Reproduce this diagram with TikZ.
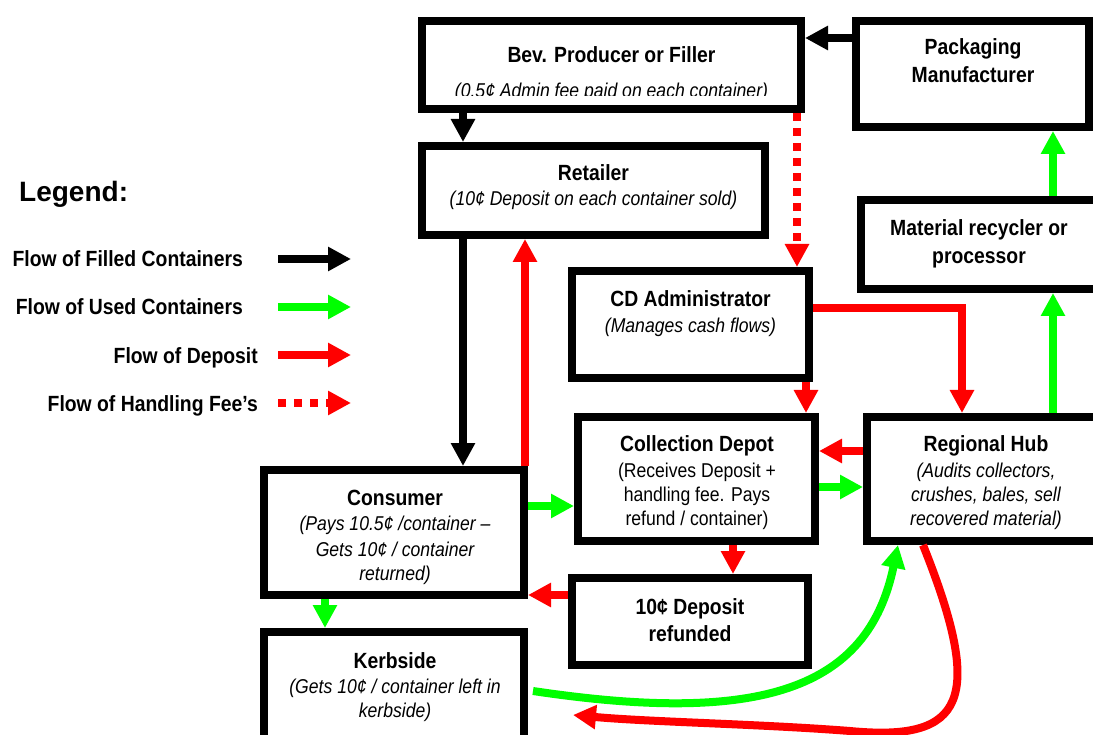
\documentclass[tikz,border=0pt]{standalone}
\usepackage{fontspec}
\setmainfont{Liberation Sans}[FakeStretch=0.88]
\newfontfamily\legendfont{Liberation Sans}
\usetikzlibrary{arrows.meta}
\definecolor{fgreen}{RGB}{0,255,0}
\definecolor{fred}{RGB}{255,0,0}
\begin{document}
\begin{tikzpicture}[x=1pt,y=-1pt,
 box/.style={draw=black, line width=8pt, fill=white, inner sep=0pt, outer sep=4pt},
 ttl/.style={font=\fontsize{22}{26}\selectfont\bfseries, anchor=base, inner sep=0pt},
 itl/.style={font=\fontsize{20}{24}\selectfont\itshape, anchor=base, inner sep=0pt},
 rgl/.style={font=\fontsize{20}{24}\selectfont, anchor=base, inner sep=0pt},
 legt/.style={font=\fontsize{22}{26}\selectfont\bfseries, anchor=base east, inner sep=0pt},
 flow/.style={line width=8pt, -{Triangle[length=23pt,width=23pt]}},
 blk/.style={flow, draw=black},
 grn/.style={flow, draw=fgreen},
 rd/.style={flow, draw=fred},
 fee/.style={flow, draw=fred, dash pattern=on 8pt off 7pt},
]
\clip (0,0) rectangle (1093,735);
\fill[white] (0,0) rectangle (1093,735);

% boxes
\node[box, minimum width=379pt, minimum height=88pt] (bev) at (611.5,65) {};
\node[box, minimum width=233pt, minimum height=106pt] (pack) at (972.5,74) {};
\node[box, minimum width=343pt, minimum height=89pt] (ret) at (593.5,190.5) {};
\node[box, minimum width=237pt, minimum height=107pt] (cda) at (690.5,324.5) {};
\node[box, minimum width=240pt, minimum height=89pt] (mat) at (981,244.5) {};
\node[box, minimum width=237pt, minimum height=124pt] (depot) at (696.5,479) {};
\node[box, minimum width=234pt, minimum height=124pt] (hub) at (984,479) {};
\node[box, minimum width=260pt, minimum height=125pt] (cons) at (394,532.5) {};
\node[box, minimum width=236pt, minimum height=87pt] (ref) at (690,621.5) {};
\node[box, minimum width=260pt, minimum height=124pt] (kerb) at (394,694) {};

% texts
\node[ttl] (bev1) at (611.5,63) {Bev. Producer or Filler};
\begin{scope}
\clip (430,70) rectangle (795,96);
\node[itl] (bev2) at (611.5,97.5) {(0.5¢ Admin fee paid on each container)};
\end{scope}

\node[ttl] (pack1) at (973,55) {Packaging};
\node[ttl] (pack2) at (973,83) {Manufacturer};

\node[ttl] (ret1) at (593.5,181) {Retailer};
\node[itl] (ret2) at (593.5,206) {(10¢ Deposit on each container sold)};

\node[ttl] (mat1) at (979,236) {Material recycler or};
\node[ttl] (mat2) at (979,264) {processor};

\node[ttl] (cda1) at (690.5,307) {CD Administrator};
\node[itl] (cda2) at (690.5,333) {(Manages cash flows)};

\node[ttl] (dep1) at (697,451) {Collection Depot};
\node[rgl] (dep2) at (697,477) {(Receives Deposit +};
\node[rgl] (dep3) at (697,501) {handling fee. Pays};
\node[rgl] (dep4) at (697,525) {refund / container)};

\node[ttl] (hub1) at (986,451) {Regional Hub};
\node[itl] (hub2) at (986,477) {(Audits collectors,};
\node[itl] (hub3) at (986,501) {crushes, bales, sell};
\node[itl] (hub4) at (986,525) {recovered material)};

\node[ttl] (con1) at (395,505) {Consumer};
\node[itl] (con2) at (395,530) {(Pays 10.5¢ /container –};
\node[itl] (con3) at (395,556) {Gets 10¢ / container};
\node[itl] (con4) at (395,580) {returned)};

\node[ttl] (ref1) at (690,614) {10¢ Deposit};
\node[ttl] (ref2) at (690,641) {refunded};

\node[ttl] (ker1) at (395,668) {Kerbside};
\node[itl] (ker2) at (395,693) {(Gets 10¢ / container left in};
\node[itl] (ker3) at (395,717) {kerbside)};

% connectors
\draw[blk] (pack.west |- 0,38) -- (bev.east |- 0,38);
\draw[blk] (bev.south -| 463,0) -- (ret.north -| 463,0);
\draw[fee] (bev.south -| 797,0) -- (cda.north -| 797,0);
\draw[blk] (ret.south -| 463,0) -- (cons.north -| 463,0);
\draw[rd] (cons.north -| 525,0) -- (ret.south -| 525,0);
\draw[rd] (cda.east |- 0,308) -| (hub.north -| 962,0);
\draw[fee] (cda.south -| 806,0) -- (depot.north -| 806,0);
\draw[grn] (mat.north -| 1053,0) -- (pack.south -| 1053,0);
\draw[grn] (hub.north -| 1053,0) -- (mat.south -| 1053,0);
\draw[rd] (hub.west |- 0,451) -- (depot.east |- 0,451);
\draw[grn] (depot.east |- 0,487) -- (hub.west |- 0,487);
\draw[grn] (cons.east |- 0,506) -- (depot.west |- 0,506);
\draw[rd] (depot.south -| 733,0) -- (ref.north -| 733,0);
\draw[rd] (ref.west |- 0,595) -- (cons.east |- 0,595);
\draw[grn] (cons.south -| 325,0) -- (kerb.north -| 325,0);
\draw[grn] ([xshift=5pt]kerb.east |- 0,691) .. controls (760,725) and (868,690) .. (hub.south -| 898,0);
\coordinate (redend) at (573,715);
\draw[rd] (hub.south -| 923,0) .. controls (985,700) and (965,742) .. (850,731) .. controls (760,724) and (650,722) .. (redend);

% legend
\node[font=\legendfont\fontsize{28}{32}\selectfont\bfseries, anchor=base west, inner sep=0pt] (leg) at (19,202) {Legend:};
\node[legt] (lg1) at (243,267) {Flow of Filled Containers};
\node[legt] (lg2) at (243,315) {Flow of Used Containers};
\node[legt] (lg3) at (258,363) {Flow of Deposit};
\node[legt] (lg4) at (258,411) {Flow of Handling Fee’s};
\coordinate (a1) at (278,259); \coordinate (b1) at (351,259);
\coordinate (a2) at (278,307); \coordinate (b2) at (351,307);
\coordinate (a3) at (278,355); \coordinate (b3) at (351,355);
\coordinate (a4) at (278,403); \coordinate (b4) at (351,403);
\draw[blk] (a1) -- (b1);
\draw[grn] (a2) -- (b2);
\draw[rd] (a3) -- (b3);
\draw[fee, dash pattern=on 8pt off 8pt] (a4) -- (b4);
\end{tikzpicture}
\end{document}
